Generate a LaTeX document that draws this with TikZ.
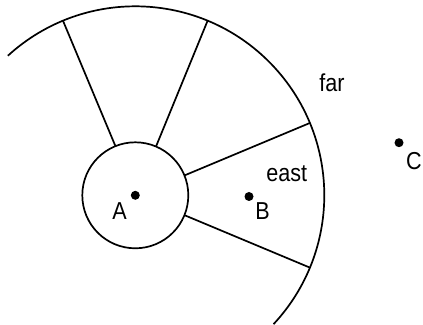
\documentclass[tikz,border=0pt]{standalone}
\usepackage{fontspec}
\setmainfont[FakeStretch=0.88]{Liberation Sans}
\begin{document}
\begin{tikzpicture}[x=1pt,y=1pt,line width=1.7pt,
  dot/.style={circle,fill=black,draw=none,inner sep=0pt,minimum size=9pt},
  hub/.style={circle,draw=black,inner sep=0pt,outer sep=0pt,minimum size=106pt},
  lbl/.style={anchor=base,inner sep=0pt,font=\fontsize{24.5}{28}\selectfont}]
\useasboundingbox (0,0) rectangle (423,324);
\coordinate (Ac) at (135.3,128.7);
\node[hub] (hub) at (Ac) {};
\node[dot] (A) at (Ac) {};
\node[dot] (B) at (249,127.5) {};
\node[dot] (C) at (399,181.3) {};
\node[lbl] (Al) at (119.5,104) {A};
\node[lbl] (Bl) at (262.5,104) {B};
\node[lbl] (Cl) at (414,154.7) {C};
\node[lbl] (east) at (286.7,142.3) {east};
\node[lbl] (far) at (332,232.3) {far};
\coordinate (o1) at ([shift={(22.5:189)}]Ac);
\coordinate (o2) at ([shift={(67.5:189)}]Ac);
\coordinate (o3) at ([shift={(112.5:189)}]Ac);
\coordinate (o4) at ([shift={(-22.5:189)}]Ac);
\coordinate (arcstart) at ([shift={(132.4:189)}]Ac);
\draw (arcstart) arc[start angle=132.4,end angle=-43,radius=189];
\draw (hub.22.5) -- (o1);
\draw (hub.67.5) -- (o2);
\draw (hub.112.5) -- (o3);
\draw (hub.-22.5) -- (o4);
\end{tikzpicture}
\end{document}
